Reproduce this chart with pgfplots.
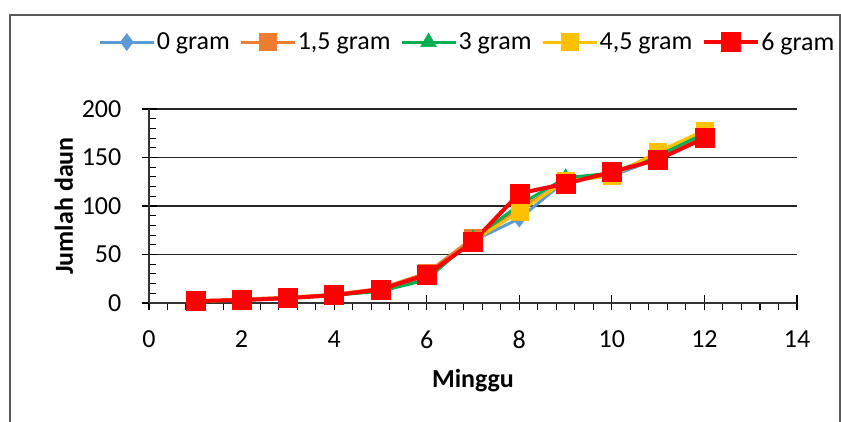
\documentclass[border=0pt]{standalone}
\usepackage{fontspec}
\setmainfont{Carlito}
\usepackage{pgfplots}
\pgfplotsset{compat=1.18}
\definecolor{c0}{HTML}{5B9BD5}
\definecolor{c1}{HTML}{ED7D31}
\definecolor{c2}{HTML}{00B050}
\definecolor{c3}{HTML}{FFC000}
\definecolor{c4}{HTML}{FF0000}
\definecolor{framec}{HTML}{595959}
\newcommand{\bigfont}{\fontsize{26}{31}\selectfont}
\begin{document}
\begin{tikzpicture}
\useasboundingbox (0pt,0pt) rectangle (841pt,422pt);
\draw[framec, line width=1.5pt] (10pt,-2pt) -- (10pt,407pt) -- (840pt,407pt) -- (840pt,-2pt);
\begin{axis}[
  at={(149pt,119pt)}, anchor=south west, scale only axis,
  width=648pt, height=194pt,
  xmin=0, xmax=14, ymin=0, ymax=200,
  xtick={0,2,...,14}, ytick={0,50,...,200},
  minor x tick num=4, minor y tick num=4,
  axis lines*=left,
  ymajorgrids, major grid style={black!85, line width=1.3pt},
  axis line style={black!80, line width=1.3pt},
  tick align=center, major tick length=15pt, minor tick length=7pt,
  tick style={black, line width=1.1pt},
  minor x tick style={yshift=-3.5pt}, minor y tick style={xshift=3.5pt},
  /pgf/number format/assume math mode=true,
  xticklabel style={font=\bigfont, inner sep=0pt, yshift=-20pt},
  yticklabel style={font=\bigfont, inner sep=0pt, xshift=-20pt},
  xlabel={Minggu},
  xlabel style={font=\bigfont\bfseries, at={(axis description cs:0.5,-0.438)}, anchor=base},
  ylabel={Jumlah daun},
  ylabel style={font=\bigfont\bfseries, at={(axis description cs:-0.1173,0.5)}, anchor=base},
  clip=false,
  legend columns=5,
  legend style={at={(axis description cs:-0.0786,1.345)}, anchor=west, draw=none, fill=none,
    inner sep=0pt, font=\bigfont, nodes={inner sep=1.5pt},
    /tikz/every even column/.append style={column sep=8pt}},
  legend image code/.code={\draw[mark repeat=2,mark phase=2,#1] plot coordinates {(0pt,0pt)(27pt,0pt)(54pt,0pt)};},
]
\addplot[c0, line width=3pt, mark=diamond*, mark size=8.5pt, mark options={fill=c0, draw=c0, line width=0.5pt}]
  coordinates {(1,2)(2,3)(3,5)(4,8)(5,13)(6,28)(7,64)(8,87)(9,126)(10,131)(11,149)(12,172)};
\addlegendentry{0 gram}
\addplot[c1, line width=3pt, mark=square*, mark size=8.5pt, mark options={fill=c1, draw=c1, line width=0.5pt}]
  coordinates {(1,2)(2,4)(3,6)(4,9)(5,15)(6,31)(7,67)(8,97)(9,125)(10,133)(11,154)(12,169)};
\addlegendentry{1,5 gram}
\addplot[c2, line width=3pt, mark=triangle*, mark size=9pt, mark options={fill=c2, draw=c2, line width=0.5pt}]
  coordinates {(1,1)(2,3)(3,5)(4,8)(5,12)(6,24)(7,66)(8,101)(9,129)(10,134)(11,152)(12,175)};
\addlegendentry{3 gram}
\addplot[c3, line width=3pt, mark=square*, mark size=8.5pt, mark options={fill=c3, draw=c3, line width=0.5pt}]
  coordinates {(1,2)(2,3)(3,5)(4,8)(5,14)(6,29)(7,64)(8,94)(9,126)(10,131)(11,156)(12,178)};
\addlegendentry{4,5 gram}
\addplot[c4, line width=4pt, mark=square*, mark size=9.5pt, mark options={fill=c4, draw=c4, line width=0.5pt}]
  coordinates {(1,2)(2,3)(3,5)(4,8)(5,14)(6,29)(7,63)(8,113)(9,123)(10,135)(11,148)(12,170)};
\addlegendentry{6 gram}
\end{axis}
\end{tikzpicture}
\end{document}
